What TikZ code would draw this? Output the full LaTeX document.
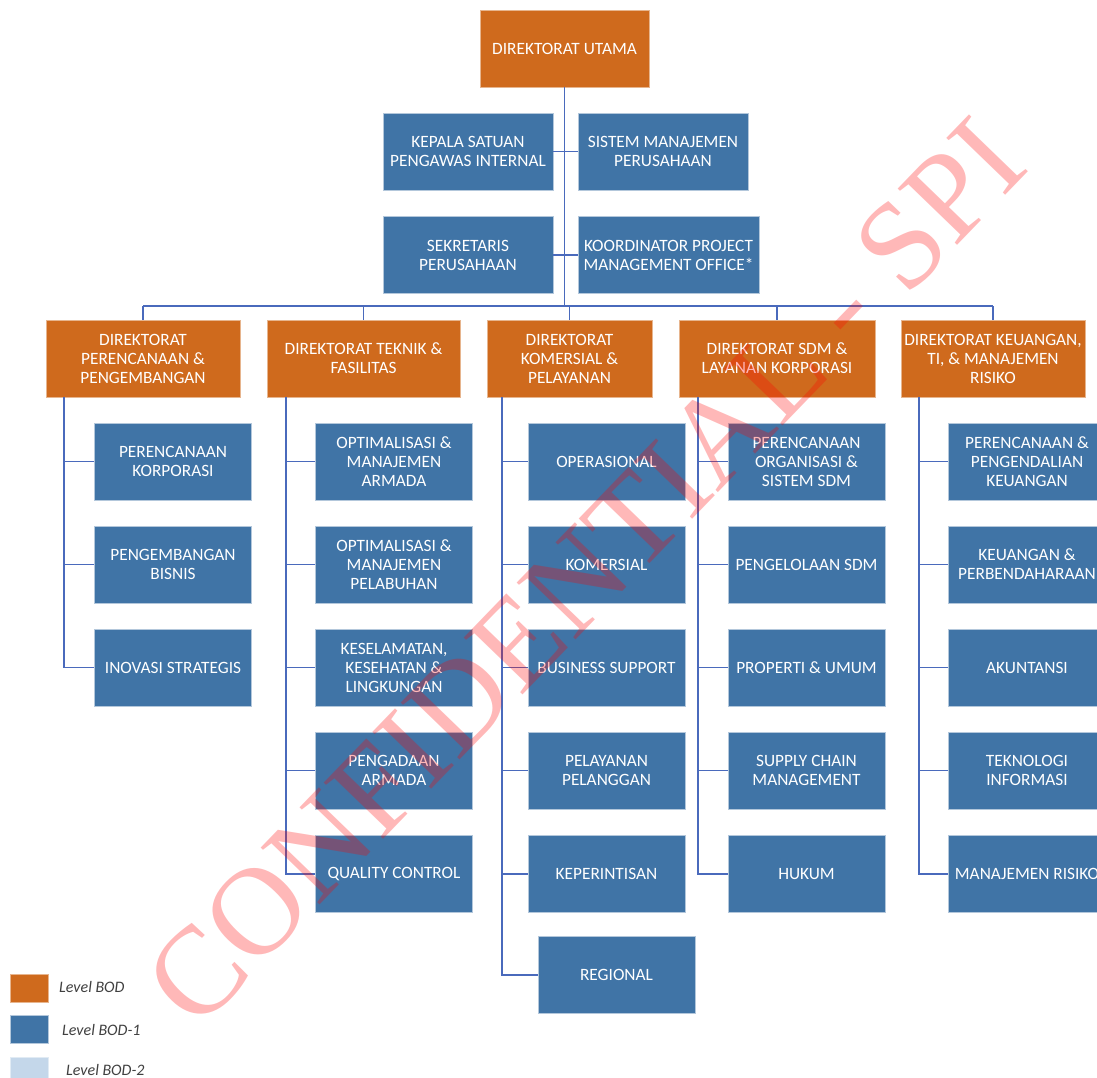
\documentclass[tikz,border=0pt]{standalone}
\usepackage{fontspec}
\setmainfont{Carlito}
\newfontfamily\wmfont{Liberation Serif}
\definecolor{bod}{RGB}{207,106,29}
\definecolor{bodone}{RGB}{64,116,166}
\definecolor{bodtwo}{RGB}{196,215,234}
\definecolor{conn}{RGB}{74,106,188}
\definecolor{legtxt}{RGB}{64,64,64}
\begin{document}
\begin{tikzpicture}[x=1pt,y=-1pt,
  box/.style={rectangle, minimum height=77pt, text=white, align=center, inner sep=0pt,
    font=\fontsize{17.3}{19}\selectfont},
  lvlzero/.style={box, fill=bod, draw=bod!50!white, line width=0.8pt},
  lvlone/.style={box, fill=bodone, draw=bodone!40!white, line width=0.8pt},
  child/.style={lvlone, minimum width=157pt},
  dirbox/.style={lvlzero},
  link/.style={draw=conn, line width=1.8pt},
  legsq/.style={rectangle, minimum width=38pt, minimum height=28pt, inner sep=0pt, line width=0.8pt},
  legtext/.style={anchor=west, inner sep=0pt, text=legtxt, font=\fontsize{16}{18}\selectfont\itshape},
  wmark/.style={text=red, text opacity=0.28, inner sep=0pt, font=\wmfont\fontsize{125}{125}\selectfont},
]
\useasboundingbox (0,0) rectangle (1097,1078);
\clip (0,0) rectangle (1097,1078);
\fill[white] (0,0) rectangle (1097,1078);

% top level
\node[lvlzero, minimum width=169pt] (utama) at (564.5,48.5) {DIREKTORAT UTAMA};
\node[lvlone, minimum width=170pt] (kepala) at (468,151.5) {KEPALA SATUAN\\PENGAWAS INTERNAL};
\node[lvlone, minimum width=170pt] (sistem) at (663,151.5) {SISTEM MANAJEMEN\\PERUSAHAAN};
\node[lvlone, minimum width=170pt] (sekr) at (468,255) {SEKRETARIS\\PERUSAHAAN};
\node[lvlone, minimum width=181pt] (koord) at (668.5,255) {KOORDINATOR PROJECT\\MANAGEMENT OFFICE*};

% directorates
\node[dirbox, minimum width=194pt] (d1) at (143,358.5) {DIREKTORAT\\PERENCANAAN \&\\PENGEMBANGAN};
\node[dirbox, minimum width=193pt] (d2) at (363.5,358.5) {DIREKTORAT TEKNIK \&\\FASILITAS};
\node[dirbox, minimum width=165pt] (d3) at (569.5,358.5) {DIREKTORAT\\KOMERSIAL \&\\PELAYANAN};
\node[dirbox, minimum width=196pt] (d4) at (777,358.5) {DIREKTORAT SDM \&\\LAYANAN KORPORASI};
\node[dirbox, minimum width=184pt] (d5) at (993,358.5) {DIREKTORAT KEUANGAN,\\TI, \& MANAJEMEN\\RISIKO};

% column 1
\node[child] (a1) at (173,461.5) {PERENCANAAN\\KORPORASI};
\node[child] (a2) at (173,564.5) {PENGEMBANGAN\\BISNIS};
\node[child] (a3) at (173,667.5) {INOVASI STRATEGIS};
% column 2
\node[child] (b1) at (394,461.5) {OPTIMALISASI \&\\MANAJEMEN\\ARMADA};
\node[child] (b2) at (394,564.5) {OPTIMALISASI \&\\MANAJEMEN\\PELABUHAN};
\node[child] (b3) at (394,667.5) {KESELAMATAN,\\KESEHATAN \&\\LINGKUNGAN};
\node[child] (b4) at (394,770.5) {PENGADAAN\\ARMADA};
\node[child] (b5) at (394,874) {QUALITY CONTROL};
% column 3
\node[child] (c1) at (606.5,461.5) {OPERASIONAL};
\node[child] (c2) at (606.5,564.5) {KOMERSIAL};
\node[child] (c3) at (606.5,667.5) {BUSINESS SUPPORT};
\node[child] (c4) at (606.5,770.5) {PELAYANAN\\PELANGGAN};
\node[child] (c5) at (606.5,874) {KEPERINTISAN};
\node[child] (c6) at (616.5,975) {REGIONAL};
% column 4
\node[child] (e1) at (806.5,461.5) {PERENCANAAN\\ORGANISASI \&\\SISTEM SDM};
\node[child] (e2) at (806.5,564.5) {PENGELOLAAN SDM};
\node[child] (e3) at (806.5,667.5) {PROPERTI \& UMUM};
\node[child] (e4) at (806.5,770.5) {SUPPLY CHAIN\\MANAGEMENT};
\node[child] (e5) at (806.5,874) {HUKUM};
% column 5
\node[child] (f1) at (1027,461.5) {PERENCANAAN \&\\PENGENDALIAN\\KEUANGAN};
\node[child] (f2) at (1027,564.5) {KEUANGAN \&\\PERBENDAHARAAN};
\node[child] (f3) at (1027,667.5) {AKUNTANSI};
\node[child] (f4) at (1027,770.5) {TEKNOLOGI\\INFORMASI};
\node[child] (f5) at (1027,874) {MANAJEMEN RISIKO};

% connectors
\coordinate (bus) at (565,306);
\draw[link] (utama.south) -- (utama.south |- bus);
\draw[link] (kepala.east) -- (sistem.west);
\draw[link] (sekr.east) -- (koord.west);
\draw[link] (d1.north |- bus) -- (d5.north |- bus);
\foreach \d in {d1,d2,d3,d4,d5} {\draw[link] (\d.north |- bus) -- (\d.north);}

\coordinate (s1) at (64,397);
\coordinate (s2) at (286,397);
\coordinate (s3) at (502,397);
\coordinate (s4) at (698,397);
\coordinate (s5) at (919,397);
\foreach \c in {a1,a2,a3} {\draw[link] (s1) |- (\c.west);}
\foreach \c in {b1,b2,b3,b4,b5} {\draw[link] (s2) |- (\c.west);}
\foreach \c in {c1,c2,c3,c4,c5,c6} {\draw[link] (s3) |- (\c.west);}
\foreach \c in {e1,e2,e3,e4,e5} {\draw[link] (s4) |- (\c.west);}
\foreach \c in {f1,f2,f3,f4,f5} {\draw[link] (s5) |- (\c.west);}

% legend
\node[legsq, fill=bod, draw=bod!50!white] (lg0) at (29,988) {};
\node[legsq, fill=bodone, draw=bodone!40!white] (lg1) at (29,1029) {};
\node[legsq, fill=bodtwo, draw=bodtwo!50!white] (lg2) at (29,1071) {};
\node[legtext] (lt0) at (59,987) {Level BOD};
\node[legtext] (lt1) at (62,1030) {Level BOD-1};
\node[legtext] (lt2) at (66,1070) {Level BOD-2};

% watermark
\node[wmark, rotate=46] (wm) at (585,572) {CONFIDENTIAL - SPI};
\end{tikzpicture}
\end{document}
